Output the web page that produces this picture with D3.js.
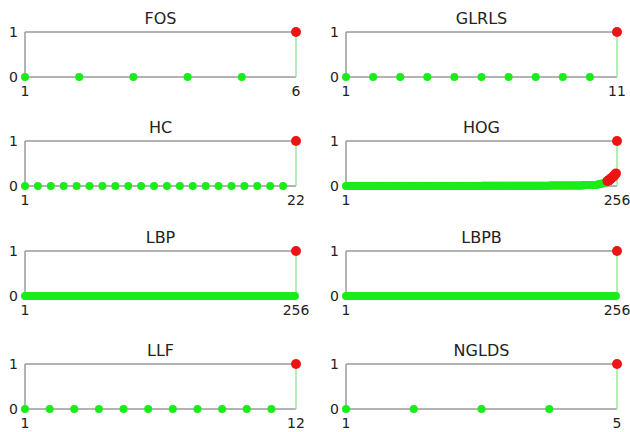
<!DOCTYPE html>
<html>
<head>
<meta charset="utf-8">
<script src="https://cdn.jsdelivr.net/npm/d3@7/dist/d3.min.js"></script>
<style>
  html, body { margin: 0; padding: 0; background: #fff; }
  svg { display: block; }
  text { font-family: "DejaVu Sans", sans-serif; fill: #222; }
</style>
</head>
<body>
<svg id="chart" width="630" height="432"></svg>
<script>
// ---- data ----
const titles = ["FOS", "GLRLS", "HC", "HOG", "LBP", "LBPB", "LLF", "NGLDS"];
const yTickLabels = ["0", "1"];

const FOS = [0, 0, 0, 0, 0, 1];
const GLRLS = [0, 0, 0, 0, 0, 0, 0, 0, 0, 0, 1];
const HC = [0, 0, 0, 0, 0, 0, 0, 0, 0, 0, 0, 0, 0, 0, 0, 0, 0, 0, 0, 0, 0, 1];
const HOG = [
  0,0,0,0,0,0,0,0,0,0,0,0,0,0,0,0,
  0,0,0,0,0,0,0,0,0,0,0,0,0,0,0,0,
  0,0,0,0,0,0,0,0,0,0,0,0,0,0,0,0,
  0,0,0,0,0,0,0,0,0,0,0,0,0,0,0,0,
  0,0,0,0,0,0,0,0,0,0,0,0,0,0,0,0,
  0,0,0,0,0,0,0,0,0,0,0,0,0,0,0,0,
  0,0,0,0,0,0,0,0,0,0,0,0,0,0,0,0,
  0,0,0,0,0,0,0,0,0,0,0,0,0,0,0,0,
  0.005,0.005,0.005,0.005,0.005,0.005,0.005,0.005,0.005,0.005,0.005,0.005,0.005,0.005,0.005,0.005,
  0.005,0.005,0.005,0.005,0.005,0.005,0.005,0.005,0.005,0.005,0.005,0.005,0.005,0.005,0.005,0.005,
  0.005,0.005,0.005,0.005,0.005,0.005,0.005,0.005,0.005,0.005,0.005,0.005,0.005,0.005,0.005,0.005,
  0.005,0.005,0.005,0.005,0.005,0.005,0.005,0.005,0.005,0.005,0.005,0.005,0.005,0.005,0.005,0.005,
  0.01,0.01,0.01,0.01,0.01,0.01,0.01,0.01,0.01,0.01,0.01,0.01,0.01,0.01,0.01,0.01,
  0.01,0.01,0.01,0.01,0.01,0.01,0.01,0.01,0.01,0.01,0.01,0.01,0.01,0.01,0.01,0.01,
  0.02,0.02,0.02,0.02,0.02,0.02,0.02,0.02,0.02,0.02,0.02,0.02,
  0.03,0.035,0.04,0.045,0.05,0.055,
  0.06,0.07,0.08,0.09,
  0.11,0.12,0.14,0.16,0.18,0.2,0.22,0.25,0.28,
  1
];
const LBP = [
  0,0,0,0,0,0,0,0,0,0,0,0,0,0,0,0,
  0,0,0,0,0,0,0,0,0,0,0,0,0,0,0,0,
  0,0,0,0,0,0,0,0,0,0,0,0,0,0,0,0,
  0,0,0,0,0,0,0,0,0,0,0,0,0,0,0,0,
  0,0,0,0,0,0,0,0,0,0,0,0,0,0,0,0,
  0,0,0,0,0,0,0,0,0,0,0,0,0,0,0,0,
  0,0,0,0,0,0,0,0,0,0,0,0,0,0,0,0,
  0,0,0,0,0,0,0,0,0,0,0,0,0,0,0,0,
  0,0,0,0,0,0,0,0,0,0,0,0,0,0,0,0,
  0,0,0,0,0,0,0,0,0,0,0,0,0,0,0,0,
  0,0,0,0,0,0,0,0,0,0,0,0,0,0,0,0,
  0,0,0,0,0,0,0,0,0,0,0,0,0,0,0,0,
  0,0,0,0,0,0,0,0,0,0,0,0,0,0,0,0,
  0,0,0,0,0,0,0,0,0,0,0,0,0,0,0,0,
  0,0,0,0,0,0,0,0,0,0,0,0,0,0,0,0,
  0,0,0,0,0,0,0,0,0,0,0,0,0,0,0,1
];
const LBPB = [
  0,0,0,0,0,0,0,0,0,0,0,0,0,0,0,0,
  0,0,0,0,0,0,0,0,0,0,0,0,0,0,0,0,
  0,0,0,0,0,0,0,0,0,0,0,0,0,0,0,0,
  0,0,0,0,0,0,0,0,0,0,0,0,0,0,0,0,
  0,0,0,0,0,0,0,0,0,0,0,0,0,0,0,0,
  0,0,0,0,0,0,0,0,0,0,0,0,0,0,0,0,
  0,0,0,0,0,0,0,0,0,0,0,0,0,0,0,0,
  0,0,0,0,0,0,0,0,0,0,0,0,0,0,0,0,
  0,0,0,0,0,0,0,0,0,0,0,0,0,0,0,0,
  0,0,0,0,0,0,0,0,0,0,0,0,0,0,0,0,
  0,0,0,0,0,0,0,0,0,0,0,0,0,0,0,0,
  0,0,0,0,0,0,0,0,0,0,0,0,0,0,0,0,
  0,0,0,0,0,0,0,0,0,0,0,0,0,0,0,0,
  0,0,0,0,0,0,0,0,0,0,0,0,0,0,0,0,
  0,0,0,0,0,0,0,0,0,0,0,0,0,0,0,0,
  0,0,0,0,0,0,0,0,0,0,0,0,0,0,0,1
];
const LLF = [0, 0, 0, 0, 0, 0, 0, 0, 0, 0, 0, 1];
const NGLDS = [0, 0, 0, 0, 1];

const seriesList = [FOS, GLRLS, HC, HOG, LBP, LBPB, LLF, NGLDS];

// ---- layout ----
const colX = [[25, 296], [346, 617]];
const rowY = [32, 141, 251, 364];
const plotH = 45;
const highlightThreshold = 0.1;
const green = "#1aec1a", red = "#ee1414", gray = "#9a9a9a", lightGreen = "#9be89b";

const svg = d3.select("#chart");

seriesList.forEach((vals, i) => {
  const col = i % 2, row = Math.floor(i / 2);
  const n = vals.length;
  const x = d3.scaleLinear().domain([1, n]).range(colX[col]);
  const y = d3.scaleLinear().domain([0, 1]).range([rowY[row] + plotH, rowY[row]]);
  const g = svg.append("g");

  // title
  g.append("text")
    .attr("x", (x.range()[0] + x.range()[1]) / 2)
    .attr("y", y(1) - 8)
    .attr("text-anchor", "middle")
    .attr("font-size", 16)
    .text(titles[i]);

  // frame: left, top, bottom in gray
  g.append("line").attr("x1", x(1)).attr("x2", x(1)).attr("y1", y(0)).attr("y2", y(1))
    .attr("stroke", gray).attr("stroke-width", 1.5);
  g.append("line").attr("x1", x(1)).attr("x2", x(n)).attr("y1", y(1)).attr("y2", y(1))
    .attr("stroke", gray).attr("stroke-width", 1.5);
  g.append("line").attr("x1", x(1)).attr("x2", x(n)).attr("y1", y(0)).attr("y2", y(0))
    .attr("stroke", gray).attr("stroke-width", 1.5);
  // right edge in light green
  g.append("line").attr("x1", x(n)).attr("x2", x(n)).attr("y1", y(0)).attr("y2", y(1))
    .attr("stroke", lightGreen).attr("stroke-width", 1.5);

  // y tick labels
  [0, 1].forEach(v => {
    g.append("text")
      .attr("x", x(1) - 7)
      .attr("y", y(v))
      .attr("dy", "0.36em")
      .attr("text-anchor", "end")
      .attr("font-size", 14)
      .text(yTickLabels[v]);
  });
  // x tick labels
  [1, n].forEach(v => {
    g.append("text")
      .attr("x", x(v))
      .attr("y", y(0) + 19)
      .attr("text-anchor", "middle")
      .attr("font-size", 14)
      .text(String(v));
  });

  const pts = vals.map((v, k) => ({ k: k + 1, v }));
  g.selectAll("circle.lo").data(pts.filter(d => d.v < highlightThreshold)).enter()
    .append("circle").attr("class", "lo")
    .attr("cx", d => x(d.k)).attr("cy", d => y(d.v)).attr("r", 4)
    .attr("fill", green);
  g.selectAll("circle.hi").data(pts.filter(d => d.v >= highlightThreshold)).enter()
    .append("circle").attr("class", "hi")
    .attr("cx", d => x(d.k)).attr("cy", d => y(d.v)).attr("r", 5)
    .attr("fill", red);
});
</script>
</body>
</html>
